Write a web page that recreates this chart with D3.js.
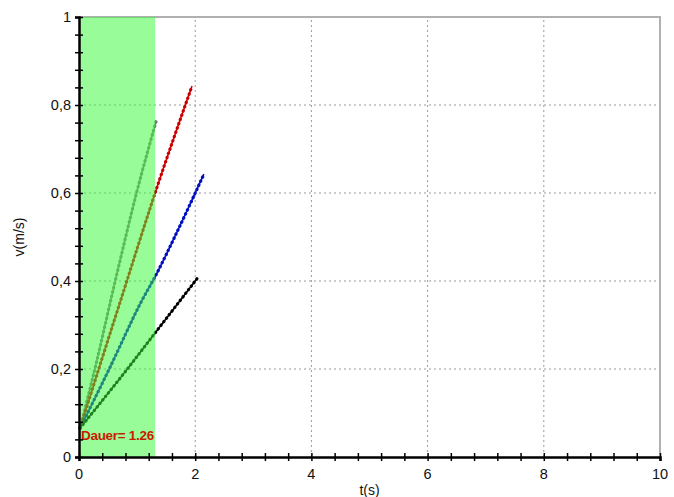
<!DOCTYPE html>
<html>
<head>
<meta charset="utf-8">
<script src="https://cdn.jsdelivr.net/npm/d3@7"></script>
<style>
    body { margin: 0; background: #fff; }
    svg { display: block; font-family: "Liberation Sans", Arial, sans-serif; }
</style>
</head>
<body>
<svg id="chart" width="674" height="497"></svg>
<script>
// [t (s), v (m/s)]
const grayRun  = [[0.02, 0.066], [0.30, 0.215], [0.62, 0.398], [0.99, 0.600], [1.325, 0.762]];
const redRun   = [[0.02, 0.066], [0.40, 0.225], [0.72, 0.357], [1.31, 0.600], [1.945, 0.843]];
const blueRun  = [[0.02, 0.066], [0.52, 0.200], [1.08, 0.355], [1.31, 0.410], [1.70, 0.515], [2.15, 0.643]];
const blackRun = [[0.02, 0.066], [0.82, 0.198], [1.31, 0.282], [2.03, 0.405]];

const xTicks = [0, 2, 4, 6, 8, 10];
const yTicks = [0, 0.2, 0.4, 0.6, 0.8, 1];
const dauer = 1.26;      // shown in the label
const shadeEnd = 1.31;   // where the green band stops in the picture

const series = [
    {data: grayRun, color: "#7a7a7a"},
    {data: redRun, color: "#cc0000"},
    {data: blueRun, color: "#0010c0"},
    {data: blackRun, color: "#000000"}
];

const margin = {top: 17, right: 14, bottom: 40, left: 79};
const width = 674, height = 497;

const x = d3.scaleLinear().domain([0, 10]).range([margin.left, width - margin.right]);
const y = d3.scaleLinear().domain([0, 1]).range([height - margin.bottom, margin.top]);

const svg = d3.select("#chart");

// grid
const grid = svg.append("g").attr("class", "grid")
    .attr("stroke", "#9a9a9a").attr("stroke-width", 1).attr("stroke-dasharray", "2,3");
grid.selectAll(".gx").data(xTicks.slice(1, -1)).enter().append("line")
    .attr("x1", d => x(d)).attr("x2", d => x(d))
    .attr("y1", y(0)).attr("y2", y(1));
grid.selectAll(".gy").data(yTicks.slice(1, -1)).enter().append("line")
    .attr("x1", x(0)).attr("x2", x(10))
    .attr("y1", d => y(d)).attr("y2", d => y(d));

// top / right frame
svg.append("path")
    .attr("d", `M ${x(0)},${y(1)} H ${x(10)} V ${y(0)}`)
    .attr("fill", "none").attr("stroke", "#b0b0b0").attr("stroke-width", 2);

// data lines
const line = d3.line().x(d => x(d[0])).y(d => y(d[1])).curve(d3.curveMonotoneX);
const lines = svg.append("g").attr("class", "lines");
series.forEach(s => {
    lines.append("path")
        .attr("d", line(s.data))
        .attr("fill", "none").attr("stroke", s.color).attr("stroke-width", 1.5);
    // the dotted markers
    lines.append("path")
        .attr("d", line(s.data))
        .attr("fill", "none").attr("stroke", s.color).attr("stroke-width", 3.2)
        .attr("stroke-linecap", "round").attr("stroke-dasharray", "0.5,4");
});

// green band on top of everything
svg.append("rect")
    .attr("x", x(0)).attr("y", y(1))
    .attr("width", x(shadeEnd) - x(0)).attr("height", y(0) - y(1))
    .attr("fill", "rgb(58,250,58)").attr("opacity", 0.52);

svg.append("text")
    .attr("x", x(0) + 2).attr("y", y(0.038))
    .attr("fill", "#cc1a00").attr("font-size", 13.5).attr("font-weight", "bold")
    .attr("letter-spacing", -0.3)
    .text("Dauer= " + dauer);

// axes
const fmt = d => d3.format("~g")(d).replace(".", ",");

const yAxis = svg.append("g").attr("transform", `translate(${x(0)},0)`)
    .call(d3.axisLeft(y).tickValues(d3.range(0, 1.0001, 0.04)).tickSize(4).tickFormat(""));
yAxis.selectAll(".tick line").attr("x2", 4).attr("x1", -4).attr("stroke-width", 1.5);
yAxis.select(".domain").attr("stroke-width", 2.5);

const xAxis = svg.append("g").attr("transform", `translate(0,${y(0)})`)
    .call(d3.axisBottom(x).tickValues(d3.range(0, 10.001, 0.4)).tickSize(4).tickFormat(""));
xAxis.selectAll(".tick line").attr("y1", -4).attr("y2", 4).attr("stroke-width", 1.5);
xAxis.select(".domain").attr("stroke-width", 2.5);

svg.append("g").selectAll("text").data(yTicks).enter().append("text")
    .attr("x", x(0) - 8).attr("y", d => y(d)).attr("dy", "0.35em")
    .attr("text-anchor", "end").attr("font-size", 14.5).attr("fill", "#111")
    .text(fmt);

svg.append("g").selectAll("text").data(xTicks).enter().append("text")
    .attr("x", d => x(d)).attr("y", y(0) + 22)
    .attr("text-anchor", "middle").attr("font-size", 14.5).attr("fill", "#111")
    .text(fmt);

svg.append("text")
    .attr("x", (x(0) + x(10)) / 2).attr("y", height - 2)
    .attr("text-anchor", "middle").attr("font-size", 14).attr("fill", "#111")
    .text("t(s)");

svg.append("text")
    .attr("transform", `translate(24,${(y(0) + y(1)) / 2}) rotate(-90)`)
    .attr("text-anchor", "middle").attr("font-size", 14).attr("fill", "#111")
    .text("v(m/s)");
</script>
</body>
</html>
